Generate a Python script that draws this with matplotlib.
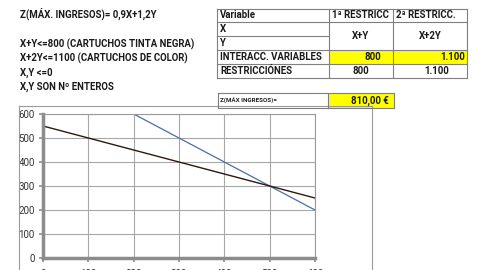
import matplotlib
matplotlib.use("Agg")
import matplotlib.pyplot as plt
from matplotlib.patches import Rectangle
from matplotlib.lines import Line2D

# chart data
x_vals = [0, 100, 200, 300, 400, 500, 600]
y_negra = [800, 700, 600, 500, 400, 300, 200]   # X+Y=800
y_color = [550, 500, 450, 400, 350, 300, 250]   # X+2Y=1100
ticks = [0, 100, 200, 300, 400, 500, 600]

# sheet text
left_lines = ["X+Y<=800 (CARTUCHOS TINTA NEGRA)",
              "X+2Y<=1100 (CARTUCHOS DE COLOR)",
              "X,Y <=0",
              "X,Y SON Nº ENTEROS"]
headers = ["Variable", "1ª RESTRICC", "2ª RESTRICC."]
row_names = ["X", "Y", "INTERACC. VARIABLES", "RESTRICCIÓNES"]
formulas = ["X+Y", "X+2Y"]
interacc = ["800", "1.100"]
restric = ["800", "1.100"]
z_label = "Z(MÁX INGRESOS)="
z_value = "810,00 €"

W, H = 480, 270
plt.rcParams["font.family"] = ["Roboto", "DejaVu Sans"]
fig = plt.figure(figsize=(W / 100, H / 100), dpi=100)
fig.patch.set_facecolor("white")
FS = 6.9


def fx(x):
    return x / W


def fy(y):
    return 1 - y / H


def txt(x, y, s, size=FS, ha="left", **kw):
    fig.text(fx(x), fy(y), s, fontsize=size, ha=ha, va="center", **kw)


def hline(x0, x1, y, c="#7f7f7f", lw=0.8):
    fig.add_artist(Line2D([fx(x0), fx(x1)], [fy(y), fy(y)], color=c, lw=lw))


def vline(x, y0, y1, c="#7f7f7f", lw=0.8):
    fig.add_artist(Line2D([fx(x), fx(x)], [fy(y0), fy(y1)], color=c, lw=lw))


def box(x0, y0, x1, y1, fc):
    fig.add_artist(Rectangle((fx(x0), fy(y1)), fx(x1) - fx(x0), fy(y0) - fy(y1),
                             facecolor=fc, edgecolor="none"))


# chart frame (outer border)
vline(19, 106, 272, c="#9a9a9a")
hline(19, 372, 106, c="#9a9a9a")
vline(372, 106, 272, c="#9a9a9a")

# left text block
tk = dict(color="#1a1a1a", weight="bold")
txt(20, 14, "Z(MÁX. INGRESOS)= 0,9X+1,2Y", **tk)
for i, s in enumerate(left_lines):
    txt(20, 44 + i * 14.2, s, **tk)

# table
cols = [217, 329, 393, 467]
rows = [9, 22, 36, 50, 64, 78]
box(cols[1], rows[3], cols[3], rows[4], "#ffff00")
box(cols[0], 93, 394, 108, "white")
box(328, 93, 394, 108, "#ffff00")
for r in rows:
    if r == 36:
        hline(cols[0], cols[1], r)
    else:
        hline(cols[0], cols[3], r)
for c in cols:
    vline(c, rows[0], rows[-1])
hline(218, 394, 93)
hline(218, 394, 108)
vline(218, 93, 108)
vline(328, 93, 108)
vline(394, 93, 108)

txt(220, 15.5, headers[0], **tk)
txt(332, 15.5, headers[1], **tk)
txt(396, 15.5, headers[2], **tk)
for i, s in enumerate(row_names):
    txt(220, 29 + i * 14, s, **tk)
txt((cols[1] + cols[2]) / 2, 36, formulas[0], ha="center", **tk)
txt((cols[2] + cols[3]) / 2, 36, formulas[1], ha="center", **tk)
txt(381, 57, interacc[0], ha="right", **tk)
txt(465, 57, interacc[1], ha="right", **tk)
txt(361, 71, restric[0], ha="center", **tk)
txt(437, 71, restric[1], ha="center", **tk)
txt(220, 101, z_label, size=4.5, color="#222222", weight="bold")
txt(389, 100.5, z_value, ha="right", **tk)

# chart
ax = fig.add_axes([fx(43), fy(258), fx(315) - fx(43), fy(114) - fy(258)])
ax.plot(x_vals, y_negra, color="#4a6fa5", lw=0.9)
ax.plot(x_vals, y_color, color="#2e1810", lw=1.0)
ax.set_xlim(0, 600)
ax.set_ylim(0, 600)
ax.set_xticks(ticks)
ax.set_yticks(ticks)
ax.grid(True, color="#a8a8a8", lw=0.8)
ax.set_axisbelow(True)
for s in ["top", "right"]:
    ax.spines[s].set_color("#9a9a9a")
    ax.spines[s].set_linewidth(0.8)
for s in ["left", "bottom"]:
    ax.spines[s].set_color("#8c8c8c")
    ax.spines[s].set_linewidth(2.5)
ax.tick_params(axis="both", colors="#8c8c8c", length=3, width=1.2,
               labelsize=7, labelcolor="#333333")
ax.tick_params(axis="x", pad=5)
ax.tick_params(axis="y", pad=3)

fig.savefig("out.png", dpi=100)
